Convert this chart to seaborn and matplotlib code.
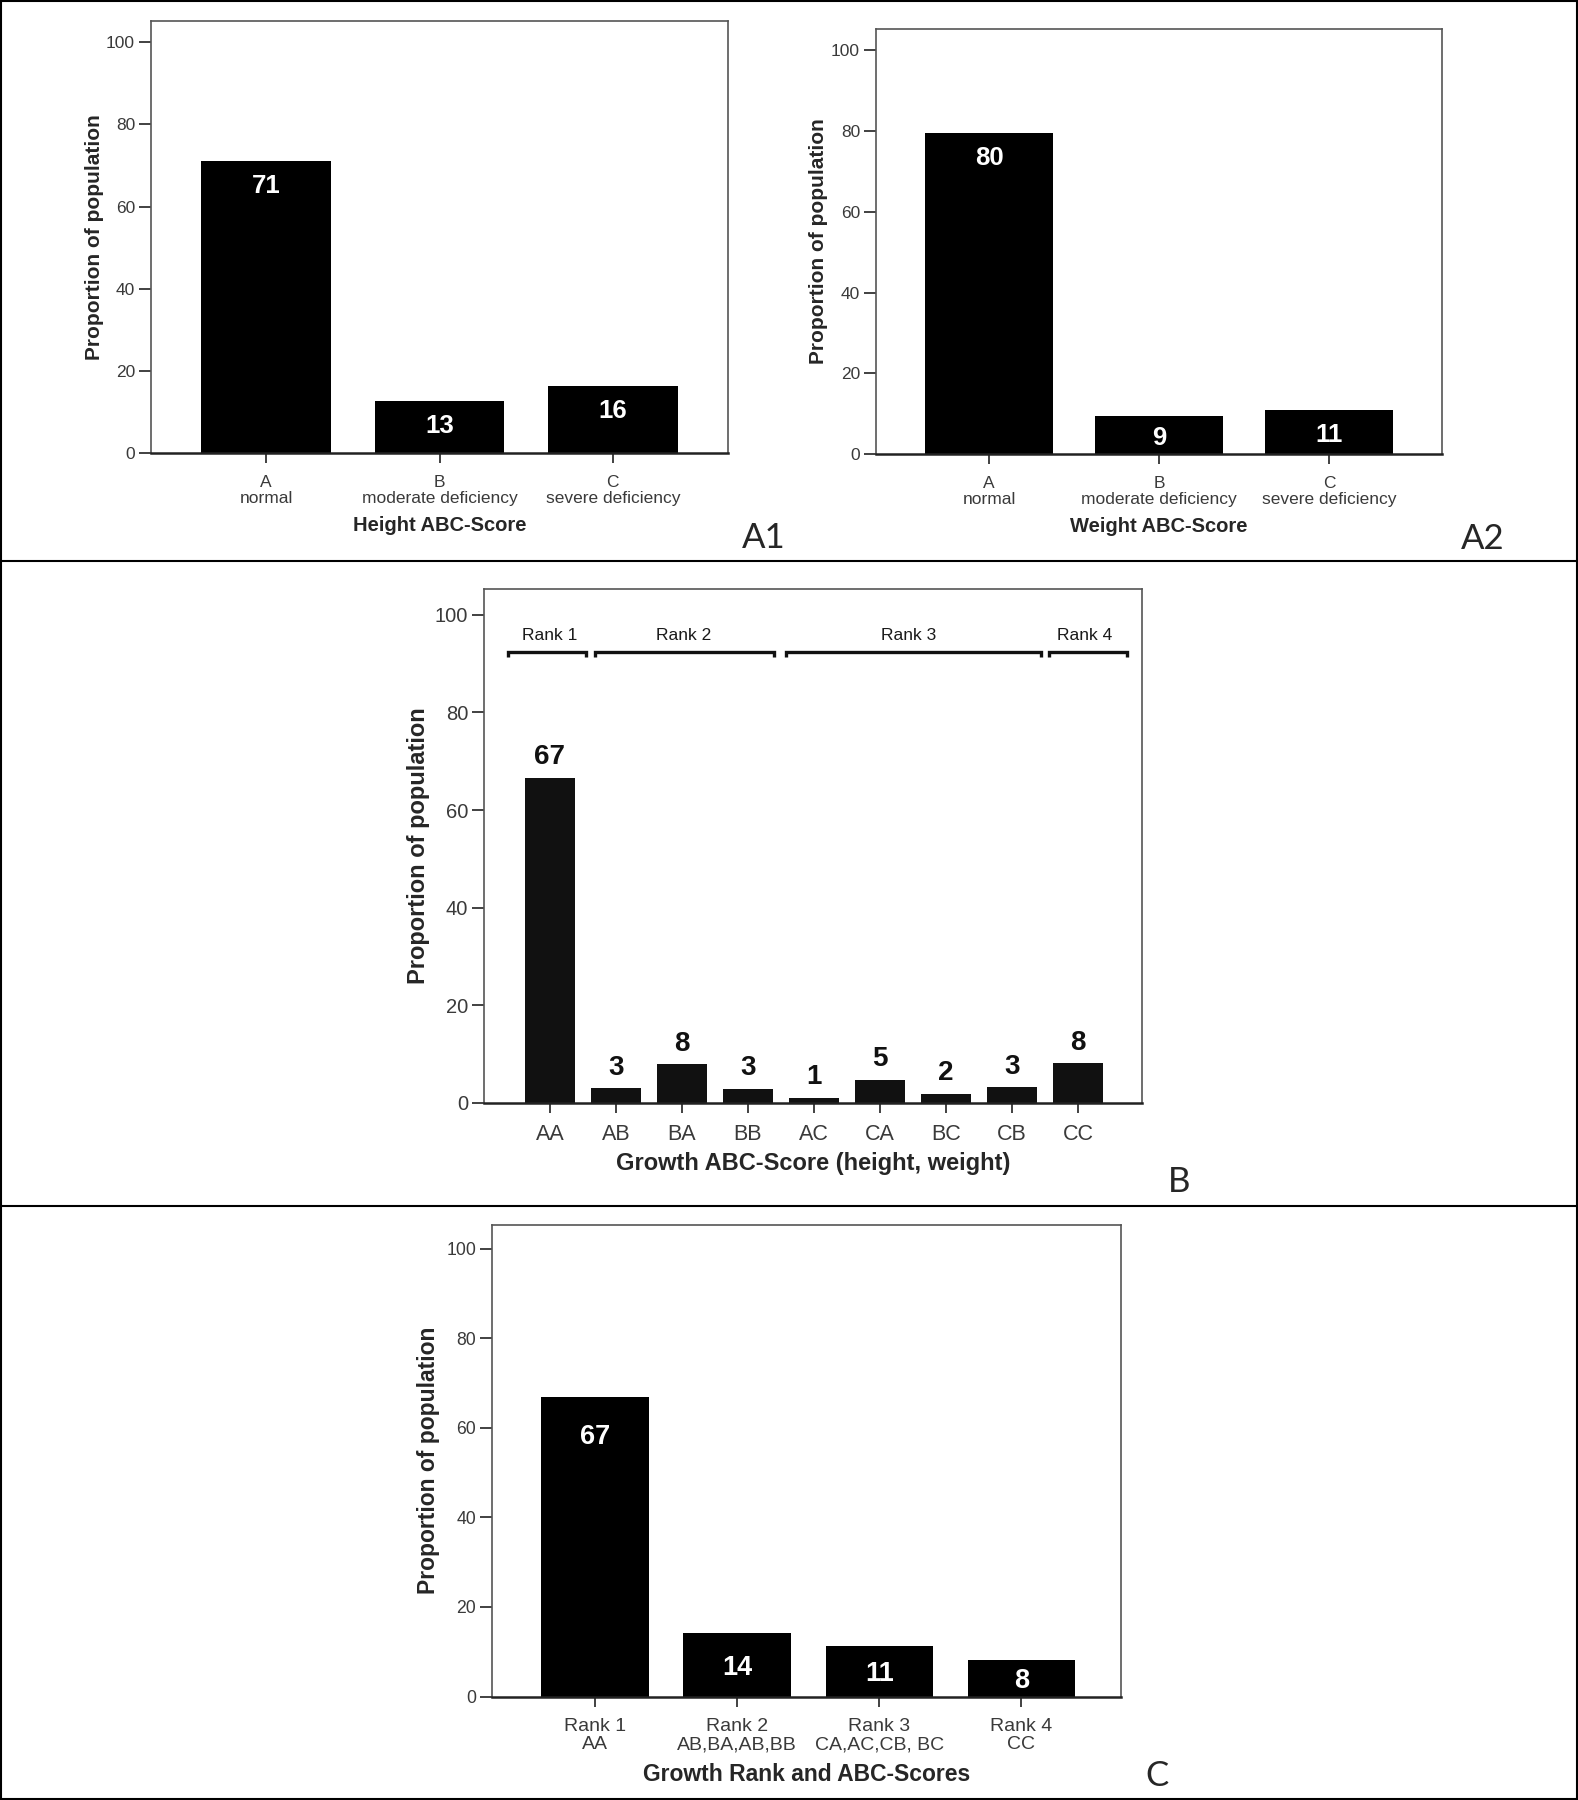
import matplotlib
matplotlib.use("Agg")
import matplotlib.pyplot as plt
import matplotlib.font_manager as fm
from matplotlib.lines import Line2D
from matplotlib.patches import Rectangle
import pandas as pd
import seaborn as sns

# --- data ---
abc_labels = ["A\nnormal", "B\nmoderate deficiency", "C\nsevere deficiency"]
height_vals = [71.0, 12.7, 16.3]
weight_vals = [79.6, 9.4, 11.0]

growth_labels = ["AA", "AB", "BA", "BB", "AC", "CA", "BC", "CB", "CC"]
growth_vals = [66.6, 3.0, 7.9, 2.9, 1.1, 4.8, 1.8, 3.2, 8.1]

rank_names = ["Rank 1", "Rank 2", "Rank 3", "Rank 4"]
rank_spans = [(-0.64, 0.55), (0.68, 3.39), (3.57, 7.44), (7.56, 8.75)]
rank_text_x = [0.0, 2.02, 5.44, 8.1]

rank_labels = ["Rank 1\nAA", "Rank 2\nAB,BA,AB,BB", "Rank 3\nCA,AC,CB, BC", "Rank 4\nCC"]
rank_vals = [66.9, 14.2, 11.2, 8.2]

sns.set_style("ticks")
plt.rcParams["font.family"] = ["Liberation Sans", "DejaVu Sans"]

# value labels are in a narrow bold face; fall back to the normal one if missing
names = {f.name for f in fm.fontManager.ttflist}
if "Liberation Sans Narrow" in names:
    NARROW, NSCALE = "Liberation Sans Narrow", 1.18
else:
    NARROW, NSCALE = "Liberation Sans", 1.0

W, H = 1578, 1800
fig = plt.figure(figsize=(W / 100, H / 100), dpi=100)
fig.patch.set_facecolor("white")


def place(left, right, top, bottom):
    return fig.add_axes([left / W, 1 - bottom / H, (right - left) / W, (bottom - top) / H])


def draw_panel(ax, cats, vals, xlabel, color, width, xlim, fs):
    df = pd.DataFrame({"cat": cats, "val": vals})
    sns.barplot(data=df, x="cat", y="val", order=cats, color=color, saturation=1,
                width=width, linewidth=0, ax=ax)
    ax.set_xlim(*xlim)
    ax.set_ylim(0, 105.3)
    ax.set_yticks([0, 20, 40, 60, 80, 100])
    ax.set_xticks(range(len(cats)))
    ax.set_xticklabels(cats, linespacing=fs.get("ls", 1.0), fontsize=fs["xt"], color="#3a3a3a")
    for s in ["top", "right", "left"]:
        ax.spines[s].set_color("#555555")
        ax.spines[s].set_linewidth(1.2)
    ax.spines["bottom"].set_color("#222222")
    ax.spines["bottom"].set_linewidth(1.8)
    ax.tick_params(axis="y", length=8.5, width=1.3, color="#333333",
                   labelsize=fs["yt"], labelcolor="#3a3a3a", pad=3)
    ax.tick_params(axis="x", length=7.5, width=1.3, color="#333333", pad=fs["xpad"])
    ax.set_ylabel("Proportion of population", fontsize=fs["yl"], fontweight="bold",
                  labelpad=fs["ylpad"])
    ax.set_xlabel(xlabel, fontsize=fs["xl"], fontweight="bold", labelpad=fs["xlpad"])
    ax.set_zorder(2)


def inside_labels(ax, size, cap_px):
    for p in ax.patches:
        h_px = ax.transData.transform((0, p.get_height()))[1] - ax.transData.transform((0, 0))[1]
        off = min(cap_px, h_px / 2 + 3) * 0.72
        ax.annotate(f"{p.get_height():.0f}", (p.get_x() + p.get_width() / 2, p.get_height()),
                    xytext=(0, -off), textcoords="offset points", ha="center", va="center",
                    color="white", fontweight="bold", fontsize=size * NSCALE, family=NARROW)


# --- A1: height ---
ax1 = place(151, 728, 20.5, 453)
draw_panel(ax1, abc_labels, height_vals, "Height ABC-Score", "black", 0.75, (-0.665, 2.665),
           dict(xt=12.5, yt=12.5, yl=15, xl=14.5, xpad=8.5, ylpad=1.5, xlpad=7.5, ls=1.05))
inside_labels(ax1, 18.5, 25)

# --- A2: weight ---
ax2 = place(876, 1442, 29, 454)
draw_panel(ax2, abc_labels, weight_vals, "Weight ABC-Score", "black", 0.75, (-0.665, 2.665),
           dict(xt=12.5, yt=12.5, yl=15, xl=14.5, xpad=8.5, ylpad=2.5, xlpad=7.5, ls=1.05))
inside_labels(ax2, 18.5, 25)

# --- B: growth combinations ---
ax3 = place(484, 1142, 589, 1103)
draw_panel(ax3, growth_labels, growth_vals, "Growth ABC-Score (height, weight)", "#111111", 0.765,
           (-1.0, 8.97), dict(xt=15.5, yt=14.5, yl=17, xl=17, xpad=7.5, ylpad=3, xlpad=5.5))
for p in ax3.patches:
    ax3.annotate(f"{p.get_height():.0f}", (p.get_x() + p.get_width() / 2, p.get_height()),
                 xytext=(0, 15), textcoords="offset points", ha="center", va="center",
                 color="#111111", fontweight="bold", fontsize=20 * NSCALE, family=NARROW)
for name, (x0, x1), tx in zip(rank_names, rank_spans, rank_text_x):
    ax3.plot([x0, x0, x1, x1], [91.4, 92.4, 92.4, 91.4], color="#111111", lw=2.4,
             solid_capstyle="butt", solid_joinstyle="miter")
    ax3.text(tx, 95.7, name, ha="center", va="center", fontsize=12.5, color="#1a1a1a")

# --- C: growth rank ---
ax4 = place(492, 1121, 1225, 1696.5)
draw_panel(ax4, rank_labels, rank_vals, "Growth Rank and ABC-Scores", "black", 0.757,
           (-0.725, 3.70), dict(xt=14, yt=12.7, yl=16.5, xl=16.5, xpad=8.3, ylpad=4.5, xlpad=7,
                               ls=1.05))
inside_labels(ax4, 19.5, 40)

# --- panel frames and letters ---
for y in [561, 1206]:
    fig.add_artist(Line2D([0, 1], [1 - y / H] * 2, color="black", lw=1.5))
fig.add_artist(Rectangle((0.0005, 0.0005), 0.999, 0.999, fill=False, ec="black", lw=1.5,
                         transform=fig.transFigure))
for lab, x, y in [("A1", 764, 538), ("A2", 1483, 539), ("B", 1179, 1182), ("C", 1157, 1776)]:
    fig.text(x / W, 1 - y / H, lab, fontsize=25, family=["Lato", "DejaVu Sans"],
             ha="center", va="center")

fig.savefig("out.png", dpi=100, facecolor="white")
